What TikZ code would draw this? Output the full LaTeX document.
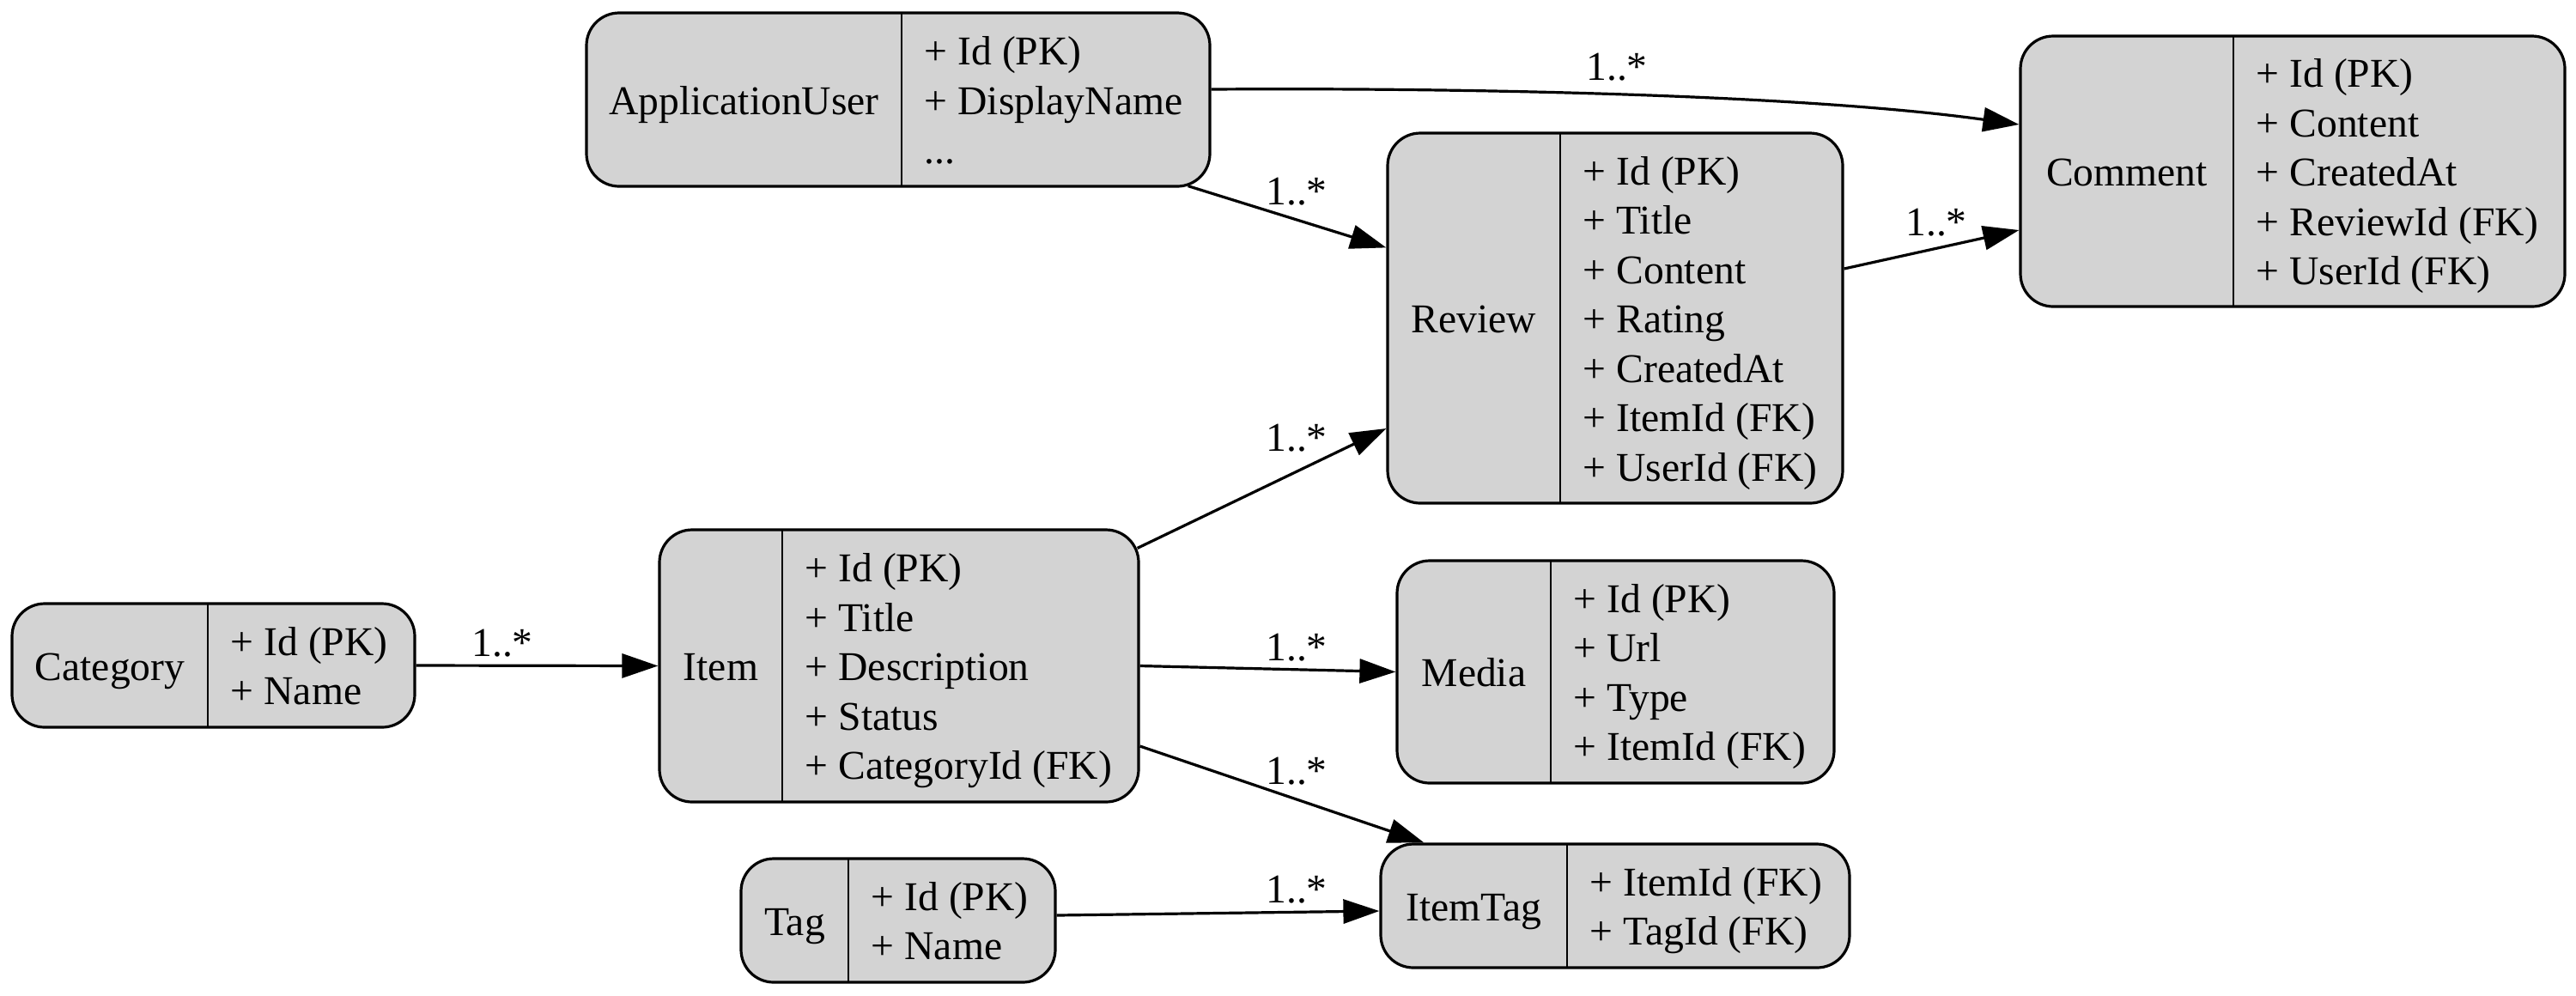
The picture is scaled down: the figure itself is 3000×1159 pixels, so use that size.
\documentclass[tikz,border=0pt]{standalone}
\usepackage{fontspec}
\setmainfont{Liberation Serif}
\usetikzlibrary{arrows.meta,calc}
\definecolor{boxgray}{HTML}{D3D3D3}
\newcommand\erent[9]{%
  \node[entity, minimum width=#4*0.25pt, minimum height=#5*0.25pt] (#1) at (#2,#3) {};
  \draw[divider] (#6,{#3-#5/2}) -- (#6,{#3+#5/2});
  \node[lbl] (#1-name) at ({(#2-#4/2+#6)/2},{#3+17}) {#7};
  \node[flds] (#1-fields) at ({#6+26},{#3+17-(#8-1)*28.75}) {\vtop{#9}};
}
\begin{document}
\begin{tikzpicture}[x=0.25pt,y=-0.25pt,
  txt/.style={font=\fontsize{11.9pt}{14.375pt}\selectfont},
  entity/.style={draw, line width=0.8pt, fill=boxgray, rounded corners=9.5pt, inner sep=0pt},
  divider/.style={line width=0.5pt},
  lbl/.style={txt, anchor=base, inner sep=0pt},
  flds/.style={txt, anchor=base west, inner sep=0pt},
  elbl/.style={txt, anchor=base, inner sep=0pt},
  rel/.style={line width=0.8pt, -{Triangle[length=10.5pt,width=7pt]}}]
\useasboundingbox (0,0) rectangle (3000,1159);

\erent{appuser}{1046}{116}{726}{202}{1050}{ApplicationUser}{3}{\hbox{+ Id (PK)}\hbox{+ DisplayName}\hbox{...}}
\erent{review}{1881}{370.5}{530}{431}{1817}{Review}{7}{\hbox{+ Id (PK)}\hbox{+ Title}\hbox{+ Content}\hbox{+ Rating}\hbox{+ CreatedAt}\hbox{+ ItemId (FK)}\hbox{+ UserId (FK)}}
\erent{comment}{2670}{199.5}{634}{315}{2601}{Comment}{5}{\hbox{+ Id (PK)}\hbox{+ Content}\hbox{+ CreatedAt}\hbox{+ ReviewId (FK)}\hbox{+ UserId (FK)}}
\erent{category}{248.5}{775}{469}{144}{242}{Category}{2}{\hbox{+ Id (PK)}\hbox{+ Name}}
\erent{item}{1047}{775.5}{558}{317}{911}{Item}{5}{\hbox{+ Id (PK)}\hbox{+ Title}\hbox{+ Description}\hbox{+ Status}\hbox{+ CategoryId (FK)}}
\erent{media}{1881.5}{782.5}{509}{259}{1806}{Media}{4}{\hbox{+ Id (PK)}\hbox{+ Url}\hbox{+ Type}\hbox{+ ItemId (FK)}}
\erent{tag}{1046}{1072}{366}{144}{988}{Tag}{2}{\hbox{+ Id (PK)}\hbox{+ Name}}
\erent{itemtag}{1881}{1055}{546}{144}{1825}{ItemTag}{2}{\hbox{+ ItemId (FK)}\hbox{+ TagId (FK)}}

% connectors
\draw[rel] (category.east) -- (item.west);
\draw[rel] (item.east) -- (media.west);
\draw[rel] ($(item.east)+(0,93.5)$) -- ($(itemtag.north west)+(52,0)$);
\draw[rel] ($(tag.east)+(0,-6)$) -- ($(itemtag.west)+(0,6)$);
\draw[rel] ($(item.north east)+(-3,23)$) -- ($(review.west)+(0,128.5)$);
\draw[rel] ($(appuser.south east)+(-27,-2)$) -- ($(review.north west)+(0,135)$);
\draw[rel] ($(appuser.east)+(0,-12)$) .. controls (1700,102) and (2100,110) .. ($(comment.west)+(0,-54.5)$);
\draw[rel] ($(review.east)+(0,-57.5)$) -- ($(comment.west)+(0,68.5)$);

% multiplicity labels
\node[elbl] (m1) at (585,764) {1..*};
\node[elbl] (m2) at (1510,769) {1..*};
\node[elbl] (m3) at (1510,913) {1..*};
\node[elbl] (m4) at (1510,1051) {1..*};
\node[elbl] (m5) at (1510,525) {1..*};
\node[elbl] (m6) at (1510,238) {1..*};
\node[elbl] (m7) at (1883,93) {1..*};
\node[elbl] (m8) at (2255,274) {1..*};
\end{tikzpicture}
\end{document}
